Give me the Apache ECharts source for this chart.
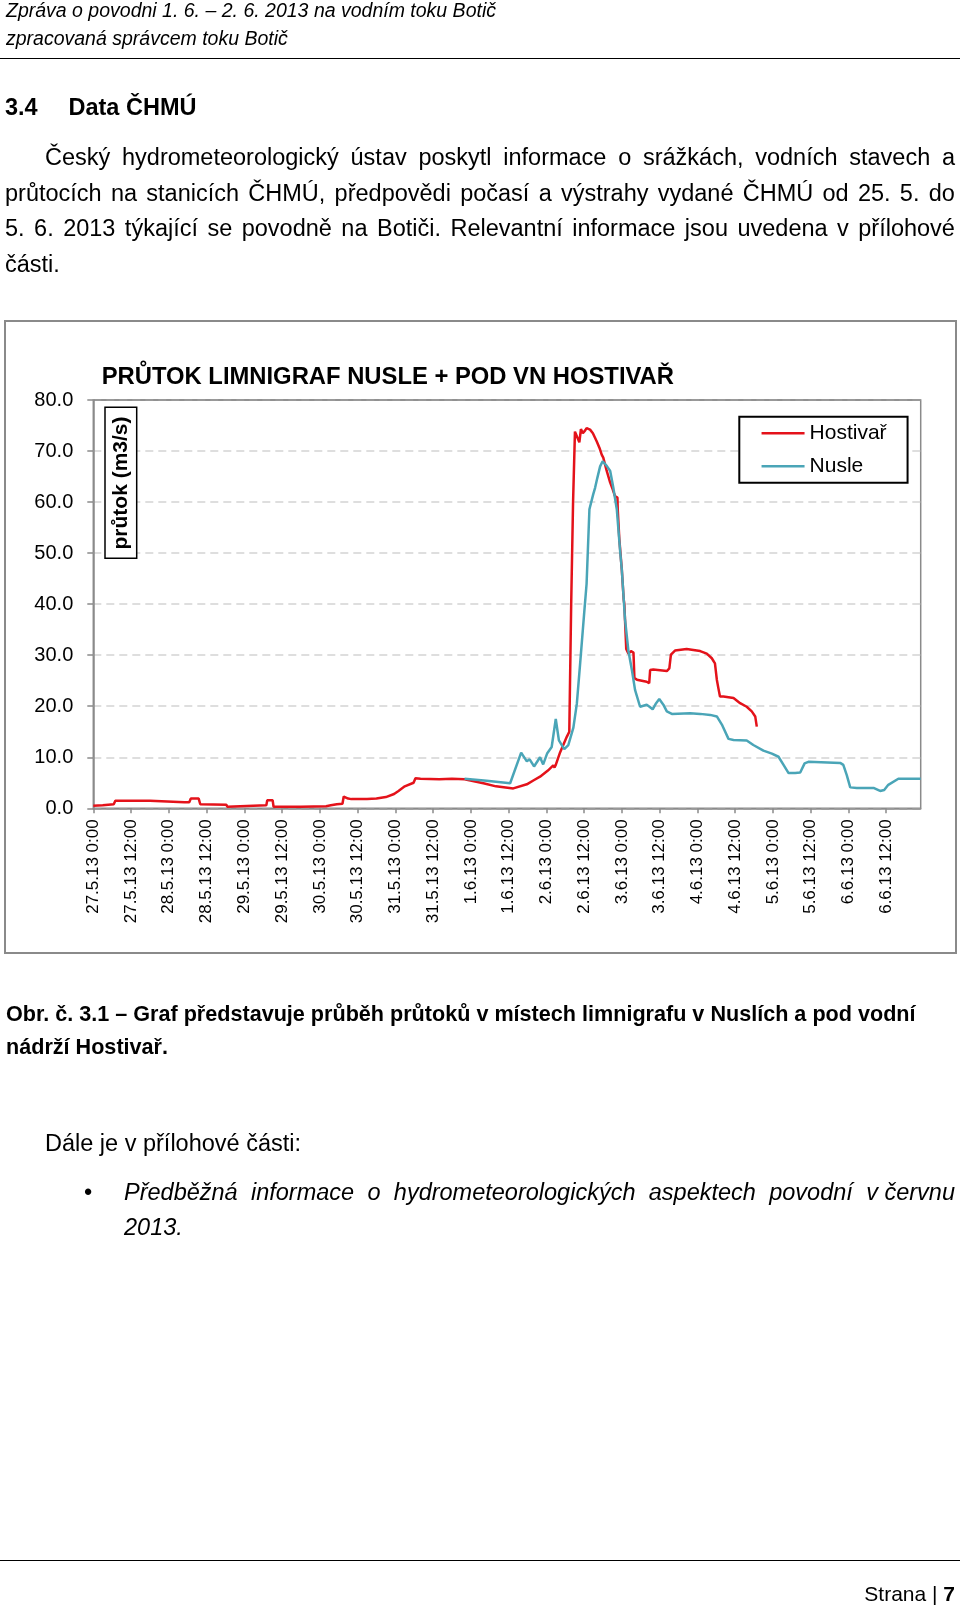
<!DOCTYPE html>
<html lang="cs">
<head>
<meta charset="utf-8">
<title>Průtok Limnigraf Nusle + pod VN Hostivař</title>
<script src="https://cdn.jsdelivr.net/npm/echarts@6/dist/echarts.min.js"></script>
<style>
  html, body { margin:0; padding:0; background:#fff; }
  body { width:960px; height:1608px; position:relative; overflow:hidden;
         font-family:"Liberation Sans", Arial, sans-serif; color:#000; }
  #chart { position:absolute; left:0; top:0; width:960px; height:1608px; }
  .t { position:absolute; white-space:nowrap; pointer-events:none; }
  .just { display:flex; justify-content:space-between; }
  .rule { position:absolute; left:0; width:960px; height:0; border-top:1.5px solid #000; }
</style>
</head>
<body>
<div id="chart"></div>

<div class="t" style="left:6px; top:-3px; font-size:19.5px; line-height:26px; font-style:italic;">Zpráva o povodni 1. 6. – 2. 6. 2013 na vodním toku Botič</div>
<div class="t" style="left:6px; top:25px; font-size:19.5px; line-height:26px; font-style:italic;">zpracovaná správcem toku Botič</div>
<div class="rule" style="top:57.5px;"></div>

<div class="t" style="left:5px; top:92px; font-size:23.5px; line-height:30px; font-weight:bold;">3.4</div>
<div class="t" style="left:68.5px; top:92px; font-size:23.5px; line-height:30px; font-weight:bold;">Data ČHMÚ</div>

<div class="t just" style="left:45px; width:910px; top:142px; font-size:23.5px; line-height:30px;">Český hydrometeorologický ústav poskytl informace o srážkách, vodních stavech a</div>
<div class="t just" style="left:5px; width:950px; top:178px; font-size:23.5px; line-height:30px;">průtocích na stanicích ČHMÚ, předpovědi počasí a výstrahy vydané ČHMÚ od 25. 5. do</div>
<div class="t just" style="left:5px; width:950px; top:213px; font-size:23.5px; line-height:30px;">5. 6. 2013 týkající se povodně na Botiči. Relevantní informace jsou uvedena v přílohové</div>
<div class="t" style="left:5px; top:249px; font-size:23.5px; line-height:30px;">části.</div>

<div class="t" style="left:6px; top:1000px; font-size:21.6px; line-height:28px; font-weight:bold;">Obr. č. 3.1 – Graf představuje průběh průtoků v místech limnigrafu v Nuslích a pod vodní</div>
<div class="t" style="left:6px; top:1033px; font-size:21.6px; line-height:28px; font-weight:bold;">nádrží Hostivař.</div>

<div class="t" style="left:45px; top:1128px; font-size:23.5px; line-height:30px;">Dále je v přílohové části:</div>
<div class="t" style="left:84px; top:1177px; font-size:23.5px; line-height:30px;">•</div>
<div class="t just" style="left:124px; width:831px; top:1177px; font-size:23.5px; line-height:30px; font-style:italic;">Předběžná informace o hydrometeorologických aspektech povodní v&nbsp;červnu</div>
<div class="t" style="left:124px; top:1212px; font-size:23.5px; line-height:30px; font-style:italic;">2013.</div>

<div class="rule" style="top:1560px;"></div>
<div class="t" style="right:5px; top:1580px; font-size:21px; line-height:28px;">Strana | <b>7</b></div>

<script>
// ---- data (hours since 27.5.13 0:00, flow m3/s) ----
const xLabels = ['27.5.13 0:00','27.5.13 12:00','28.5.13 0:00','28.5.13 12:00','29.5.13 0:00','29.5.13 12:00',
  '30.5.13 0:00','30.5.13 12:00','31.5.13 0:00','31.5.13 12:00','1.6.13 0:00','1.6.13 12:00','2.6.13 0:00',
  '2.6.13 12:00','3.6.13 0:00','3.6.13 12:00','4.6.13 0:00','4.6.13 12:00','5.6.13 0:00','5.6.13 12:00',
  '6.6.13 0:00','6.6.13 12:00'];

const seriesNames = ['Hostivař', 'Nusle'];

const hostivar = [
  [0,0.5],[3,0.6],[6.5,0.8],[7,1.5],[18,1.5],[29,1.2],[30.5,1.2],[31,1.9],[33.5,1.9],[34,0.8],
  [42.3,0.7],[42.6,0.3],[43,0.6],[55,0.6],[55.3,1.6],[57,1.6],[57.3,0.3],[66,0.3],[74,0.4],[75.5,0.6],
  [77.4,0.8],[79.2,0.9],[79.6,2.3],[81,1.9],[82,1.8],[87,1.8],[90,1.9],[93,2.2],[95.6,2.8],[97,3.4],
  [99,4.3],[101.8,5.0],[102.1,5.1],[102.4,5.9],[104,5.8],[110,5.7],[114,5.8],[118,5.7],[124,4.9],
  [128,4.3],[133.5,3.9],[137.8,4.7],[140,5.5],[142,6.2],[144.5,7.4],[146.2,8.4],[146.6,8.0],[147,8.5],
  [148.4,11.0],[150.5,14.0],[151.3,15.0],[151.9,40],[152.5,60],[153.1,73.8],[153.7,72.9],[154.5,71.7],
  [155,74.3],[155.6,73.5],[156.3,74.0],[156.8,74.5],[157.9,74.2],[158.8,73.5],[160,71.9],[160.9,70.6],
  [161.6,69.3],[162.1,68.7],[163.2,66.1],[164.3,63.8],[165.1,62.5],[165.8,61.2],[166.6,60.9],[166.7,58.6],
  [167.2,52.8],[168,46.7],[168.6,40.9],[168.8,40.0],[169.4,31.2],[170.1,30.3],[170.5,30.1],[170.9,30.8],
  [171.7,30.5],[172,25.5],[172.8,25.2],[175.9,24.8],[176.7,24.5],[177,27.1],[178,27.2],[182.3,26.9],
  [183.1,27.4],[183.6,30.1],[184.9,30.9],[188.6,31.2],[192.9,30.8],[195,30.3],[196.6,29.4],[197.6,28.4],
  [198.2,25.2],[198.7,23.5],[199.2,21.9],[200.3,21.9],[203.5,21.6],[205.6,20.6],[207.7,19.9],[209.3,19.0],
  [210.4,18.0],[210.9,16.0]
];

const nusle = [
  [118,5.8],[125,5.4],[132.5,4.9],[136,10.9],[137.8,9.2],[138.7,9.6],[140.1,8.2],[142,10.0],[143,8.6],
  [144.3,10.8],[145.7,12.0],[147,17.5],[148,13.3],[149.7,11.6],[151,12.4],[152.6,15.8],[153.7,20.5],
  [154.7,28],[156,38],[156.8,44],[157.7,58.6],[158.9,61.5],[159.5,62.8],[160.2,64.7],[161.1,67.0],
  [161.9,68.0],[163.2,67.1],[164.3,66.1],[165.3,62.8],[166.4,58.6],[167.5,50.1],[168,46.7],[169,37.1],
  [170.1,30.8],[171.2,27.1],[172.2,23.2],[173.8,19.9],[175.9,20.3],[176.8,19.9],[177.8,19.4],[178.9,20.6],
  [179.9,21.4],[181.2,20.3],[182.3,19.0],[183.9,18.5],[189.7,18.6],[192.9,18.5],[196.1,18.3],[198.2,18.0],
  [199.8,16.4],[201.9,13.6],[203.5,13.4],[207.7,13.3],[209.8,12.4],[213,11.3],[215.7,10.7],[217.8,10.1],
  [219.4,8.5],[221,6.9],[223.1,6.9],[224.7,7.0],[226.1,8.8],[227.3,9.1],[237.4,8.9],[238.4,8.5],[239.5,6.5],
  [240.6,4.1],[242.7,4.0],[248,4.0],[250.1,3.4],[251.4,3.6],[252.7,4.6],[255.9,5.8],[263,5.8]
];

// split justified lines into flex items
document.querySelectorAll('.just').forEach(el => {
  const words = el.textContent.split(/ +/);
  el.innerHTML = words.map(w => '<span>' + w + '</span>').join('');
});

const FONT = '"Liberation Sans", Arial, sans-serif';
const RED = '#e4121a';
const BLUE = '#4aa5b7';
const chart = echarts.init(document.getElementById('chart'), null, { renderer: 'canvas' });

chart.setOption({
  animation: false,
  backgroundColor: 'transparent',
  textStyle: { fontFamily: FONT },
  grid: {
    left: 93.3, right: 39.3, top: 400, bottom: 799.7,
    show: true, borderColor: '#8a8a8a', borderWidth: 1.5, backgroundColor: 'transparent'
  },
  legend: {
    left: 739.3, top: 416.7, orient: 'vertical',
    padding: [6, 21, 6, 21],
    itemWidth: 43, itemHeight: 20, itemGap: 12,
    borderColor: '#000', borderWidth: 2,
    backgroundColor: '#fff',
    itemStyle: { opacity: 0, borderWidth: 0 },
    lineStyle: { width: 2.5 },
    textStyle: { fontFamily: FONT, fontSize: 21, color: '#000' },
    data: seriesNames
  },
  xAxis: {
    type: 'value', min: 0, max: 263, interval: 12,
    axisLine: { show: true, lineStyle: { color: '#8a8a8a', width: 1.5 } },
    axisTick: { show: true, length: 5, lineStyle: { color: '#8a8a8a', width: 1.5 } },
    splitLine: { show: false },
    axisLabel: {
      rotate: 90, margin: 11, fontSize: 17, color: '#000', fontFamily: FONT,
      showMaxLabel: false,
      formatter: v => (Number.isInteger(v / 12) && xLabels[v / 12] !== undefined) ? xLabels[v / 12] : ''
    }
  },
  yAxis: {
    type: 'value', min: 0, max: 80, interval: 10,
    axisLine: { show: true, lineStyle: { color: '#8a8a8a', width: 1.5 } },
    axisTick: { show: true, length: 6, lineStyle: { color: '#8a8a8a', width: 1.5 } },
    splitLine: { show: true, lineStyle: { color: '#d3d3d3', width: 1.5, type: [8, 5] } },
    axisLabel: { margin: 20, fontSize: 20, color: '#000', fontFamily: FONT, formatter: v => v.toFixed(1) }
  },
  series: [
    {
      name: seriesNames[0], type: 'line', data: hostivar, symbol: 'none', showSymbol: false,
      lineStyle: { color: RED, width: 2.5 }, itemStyle: { color: RED }
    },
    {
      name: seriesNames[1], type: 'line', data: nusle, symbol: 'none', showSymbol: false,
      lineStyle: { color: BLUE, width: 2.5 }, itemStyle: { color: BLUE }
    }
  ],
  graphic: [
    { type: 'rect', shape: { x: 5, y: 321, width: 951, height: 632 }, z: -10,
      style: { fill: 'none', stroke: '#8a8a8a', lineWidth: 2 } },
    { type: 'line', shape: { x1: 93.3, y1: 400, x2: 920.7, y2: 400 }, z: 5,
      style: { stroke: '#8a8a8a', lineWidth: 1.5 } },
    { type: 'text', x: 101.7, y: 377, z: 10,
      style: { text: 'PRŮTOK LIMNIGRAF NUSLE + POD VN HOSTIVAŘ', font: 'bold 23.8px ' + FONT,
               fill: '#000', textAlign: 'left', textVerticalAlign: 'middle' } },
    { type: 'rect', shape: { x: 105, y: 407.3, width: 31.7, height: 151 }, z: 10,
      style: { fill: '#fff', stroke: '#000', lineWidth: 1.5 } },
    { type: 'text', x: 121, y: 483, rotation: Math.PI / 2, z: 11,
      style: { text: 'průtok (m3/s)', font: 'bold 21px ' + FONT, fill: '#000',
               textAlign: 'center', textVerticalAlign: 'middle' } }
  ]
});
</script>
</body>
</html>
